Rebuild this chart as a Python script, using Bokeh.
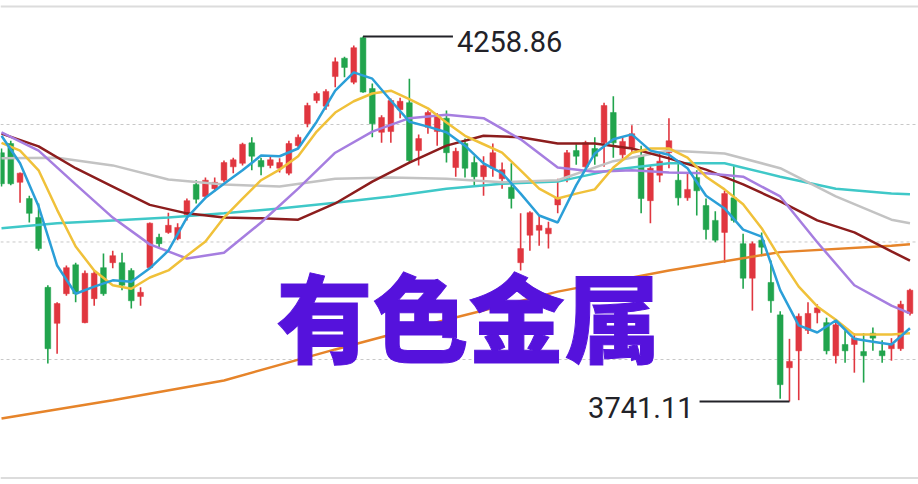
import numpy as np
from bokeh.plotting import figure
from bokeh.models import Range1d, Span, Label
from bokeh.core.properties import value
from bokeh.embed import file_html
from bokeh.resources import INLINE

# ---- candle data (index = trading day) ----
opens = [4094, 4107, 4052, 4029, 4002, 3903, 3852, 3894, 3935, 3853,
         3887, 3931, 3938, 3938, 3927, 3890, 3931, 3974, 3981, 3972,
         4006, 4049, 4032, 4043, 4055, 4074, 4079, 4108, 4083, 4076,
         4072, 4065, 4104, 4135, 4168, 4160, 4202, 4228, 4194, 4257,
         4185, 4123, 4124, 4155, 4165, 4097, 4130, 4124, 4143, 4073,
         4107, 4080, 4060, 4072, 4057, 4045, 3938, 3977, 3984, 3979,
         4020, 4059, 4097, 4074, 4100, 4108, 4151, 4091, 4101, 4090,
         4026, 4062, 4094, 4055, 4030, 4059, 4019, 3998, 3981, 4030,
         3965, 3916, 3970, 3910, 3864, 3789, 3813, 3842, 3867, 3853,
         3806, 3822, 3822, 3812, 3838, 3813, 3816, 3816, 3866]
closes = [4050, 4050, 4065, 4008, 3958, 3816, 3880, 3931, 3894, 3923,
          3923, 3894, 3948, 3906, 3884, 3896, 3994, 3965, 3991, 3988,
          4026, 4028, 4055, 4052, 4080, 4084, 4106, 4089, 4074, 4084,
          4080, 4107, 4116, 4161, 4178, 4181, 4223, 4215, 4243, 4180,
          4135, 4144, 4168, 4167, 4083, 4114, 4151, 4147, 4094, 4096,
          4072, 4060, 4076, 4094, 4070, 4029, 3958, 4009, 3991, 3987,
          4030, 4094, 4089, 4108, 4089, 4161, 4108, 4110, 4121, 4029,
          4072, 4082, 4111, 4030, 4042, 4040, 3985, 3970, 4036, 3998,
          3916, 3965, 3960, 3884, 3765, 3798, 3862, 3866, 3874, 3813,
          3850, 3813, 3831, 3806, 3831, 3806, 3823, 3879, 3899]
highs = [4100, 4111, 4066, 4033, 4022, 3906, 3882, 3934, 3938, 3927,
         3927, 3951, 3955, 3952, 3930, 3903, 3995, 3979, 4009, 3994,
         4029, 4055, 4059, 4059, 4083, 4087, 4108, 4116, 4087, 4089,
         4086, 4111, 4120, 4165, 4181, 4184, 4229, 4230, 4246, 4258.86,
         4192, 4147, 4171, 4172, 4199, 4120, 4154, 4150, 4154, 4101,
         4114, 4089, 4089, 4107, 4080, 4079, 4008, 4011, 4005, 3996,
         4057, 4098, 4106, 4111, 4116, 4165, 4174, 4116, 4133, 4104,
         4076, 4094, 4143, 4083, 4065, 4069, 4029, 4011, 4040, 4076,
         3979, 3968, 3981, 3941, 3869, 3830, 3866, 3882, 3879, 3860,
         3856, 3842, 3838, 3838, 3846, 3828, 3831, 3884, 3901]
lows = [4046, 4048, 4023, 3995, 3955, 3795, 3809, 3891, 3882, 3852,
        3877, 3891, 3930, 3899, 3873, 3877, 3930, 3958, 3979, 3970,
        3998, 4022, 4029, 4039, 4052, 4065, 4076, 4069, 4062, 4072,
        4066, 4062, 4101, 4130, 4164, 4155, 4187, 4201, 4191, 4179,
        4116, 4108, 4108, 4143, 4080, 4076, 4121, 4104, 4080, 4060,
        4059, 4048, 4033, 4060, 4043, 4015, 3927, 3955, 3962, 3958,
        4008, 4052, 4077, 4072, 4077, 4074, 4087, 4083, 4094, 4008,
        3994, 4052, 4072, 4019, 4026, 4005, 3971, 3967, 3938, 3995,
        3901, 3870, 3947, 3867, 3745, 3741.11, 3743, 3837, 3852, 3808,
        3795, 3796, 3782, 3768, 3813, 3796, 3799, 3813, 3863]

# ---- moving averages ----
fast_idx = list(range(0, 99, 2))
ma5 = [4118, 4079, 4018, 3934, 3894, 3904, 3913, 3911, 3930, 3955,
       4002, 4030, 4050, 4069, 4090, 4089, 4100, 4138, 4182, 4208,
       4199, 4168, 4138, 4131, 4123, 4104, 4079, 4065, 4036, 4005,
       3995, 4048, 4093, 4113, 4120, 4097, 4091, 4072, 4033, 4015,
       3985, 3975, 3899, 3849, 3839, 3856, 3830, 3826, 3822, 3845]
ma10 = [4108, 4097, 4069, 4013, 3961, 3927, 3906, 3901, 3917, 3927,
        3948, 3968, 4002, 4029, 4055, 4070, 4089, 4124, 4151, 4167,
        4178, 4182, 4170, 4157, 4137, 4118, 4106, 4094, 4069, 4043,
        4029, 4036, 4042, 4073, 4094, 4100, 4100, 4087, 4060, 4042,
        4021, 3987, 3944, 3904, 3876, 3857, 3836, 3836, 3836, 3838]
mid_idx = list(range(0, 97, 4)) + [98]
ma20 = [4123, 4097, 4049, 4002, 3964, 3944, 3952, 3995, 4043, 4094,
        4124, 4143, 4148, 4143, 4113, 4073, 4067, 4069, 4066, 4065,
        4060, 4032, 3967, 3906, 3877, 3866]
ma30 = [4121, 4103, 4072, 4046, 4020, 4008, 4002, 4001, 3999, 4022,
        4053, 4080, 4104, 4118, 4116, 4107, 4107, 4100, 4086, 4070,
        4049, 4025, 3998, 3981, 3954, 3941]
slow_idx = list(range(0, 97, 6)) + [98]
ma60 = [4086, 4087, 4076, 4056, 4049, 4046, 4057, 4059, 4057, 4052,
        4055, 4082, 4097, 4093, 4072, 4032, 3999, 3994]
ma120 = [3987, 3994, 3998, 4002, 4008, 4015, 4023, 4032, 4043, 4050,
         4053, 4070, 4079, 4079, 4060, 4043, 4036, 4035]
year_idx = [0, 12, 24, 36, 48, 60, 72, 84, 96, 98]
ma250 = [3717, 3743, 3771, 3815, 3857, 3897, 3927, 3953, 3962, 3964]

grid_levels = [3800.7, 3967.4, 4134.0]
title_text = "有色金属"

RED = "#e0363f"
GREEN = "#21a44d"

n = len(opens)
idx = np.arange(n)
o = np.array(opens, dtype=float)
c = np.array(closes, dtype=float)
h = np.array(highs, dtype=float)
l = np.array(lows, dtype=float)
colors = [RED if ci >= oi else GREEN for oi, ci in zip(o, c)]

p = figure(width=918, height=484,
           x_range=Range1d(-0.108, 98.92), y_range=Range1d(3623.4, 4309.9),
           x_axis_type=None, y_axis_type=None,
           output_backend="svg", toolbar_location=None,
           min_border=0, outline_line_color=None)
p.background_fill_color = "white"
p.border_fill_color = "white"

for lvl in grid_levels:
    p.add_layout(Span(location=lvl, dimension="width", line_color="#c8c8c8",
                      line_dash="3 3", line_width=1, level="underlay"))
p.add_layout(Span(location=4301.4, dimension="width", line_color="#dcdcdc",
                  line_width=2, level="underlay"))
p.add_layout(Span(location=3632.6, dimension="width", line_color="#dcdcdc",
                  line_width=2, level="underlay"))

# candles
p.segment(x0=idx, y0=l, x1=idx, y1=h, line_color=colors, line_width=1.6)
p.vbar(x=idx, width=0.62, top=np.maximum(o, c), bottom=np.minimum(o, c),
       fill_color=colors, line_color=colors, line_width=0.5)

# moving averages
p.line(year_idx, ma250, line_color="#e6842a", line_width=2.5)
p.line(slow_idx, ma120, line_color="#3fc8c8", line_width=2.5)
p.line(slow_idx, ma60, line_color="#c3c3c3", line_width=2.5)
p.line(mid_idx, ma30, line_color="#8c1d1d", line_width=2.5)
p.line(mid_idx, ma20, line_color="#a67ee0", line_width=2.5)
p.line(fast_idx, ma10, line_color="#f0c13a", line_width=2.5)
p.line(fast_idx, ma5, line_color="#2b9fd8", line_width=2.5)

# high / low annotations
hi_i = int(np.argmax(h))
lo_i = int(np.argmin(l))
lead = 9.7
p.segment(x0=[hi_i], y0=[h[hi_i]], x1=[hi_i + lead], y1=[h[hi_i]],
          line_color="#222228", line_width=2)
p.segment(x0=[lo_i - lead], y0=[l[lo_i]], x1=[lo_i], y1=[l[lo_i]],
          line_color="#222228", line_width=2)
p.text(x=[hi_i + lead], y=[h[hi_i]], text=[f"{h[hi_i]:.2f}"],
       text_font=value("Roboto"), text_font_size="29px", text_color="#222228",
       text_align="left", text_baseline="middle", x_offset=4, y_offset=5)
p.text(x=[lo_i - lead], y=[l[lo_i]], text=[f"{l[lo_i]:.2f}"],
       text_font=value("Roboto"), text_font_size="29px", text_color="#222228",
       text_align="right", text_baseline="middle", x_offset=-6, y_offset=6)

title = Label(x=468, y=171, x_units="screen", y_units="screen", text=title_text,
              text_font="'Noto Sans CJK SC Black', 'Noto Sans CJK SC'",
              text_font_size="96px",
              text_font_style="bold", text_color="#5512dc",
              text_align="center", text_baseline="middle")
try:
    title.text_outline_color = "#5512dc"
except Exception:
    pass
p.add_layout(title)

open("out.html", "w").write(file_html(p, INLINE))
